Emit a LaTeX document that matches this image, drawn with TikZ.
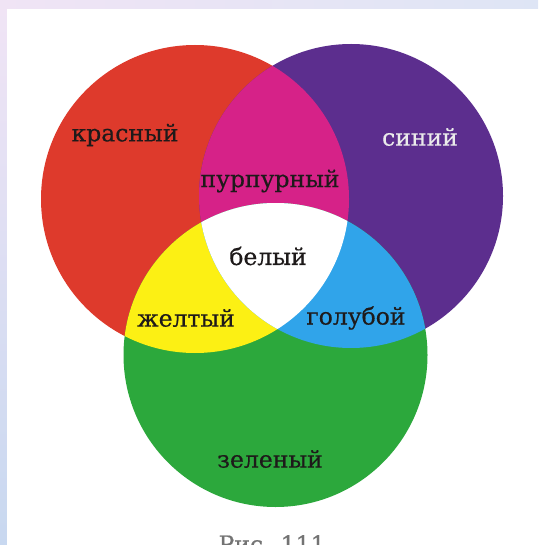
\documentclass[tikz,border=0pt]{standalone}
\usepackage{fontspec}
\setmainfont{DejaVu Serif}
\newfontfamily\lblfont{DejaVu Serif}[FakeBold=0.5]
\definecolor{cred}{RGB}{222,58,44}
\definecolor{cpurple}{RGB}{92,46,142}
\definecolor{cgreen}{RGB}{44,168,60}
\definecolor{cmagenta}{RGB}{214,34,136}
\definecolor{cyellow}{RGB}{252,240,20}
\definecolor{ccyan}{RGB}{48,164,234}
\definecolor{ctext}{RGB}{30,26,26}
\definecolor{bgpink}{RGB}{240,228,245}
\definecolor{bgblue}{RGB}{200,216,240}
\definecolor{bgtopr}{RGB}{222,229,245}
\begin{document}
\begin{tikzpicture}[x=1pt,y=-1pt,
  lbl/.style={font=\lblfont\fontsize{23.5}{26}\selectfont, text=ctext, inner sep=0pt}]
\useasboundingbox (0,0) rectangle (538,545);
% background frame
\shade[left color=bgpink, right color=bgtopr] (0,0) rectangle (538,9);
\shade[top color=bgpink, bottom color=bgblue] (0,9) rectangle (7,545);
\fill[white] (7,9) rectangle (538,545);
% circle centres
\coordinate (R) at (195,199);
\coordinate (P) at (351,196);
\coordinate (G) at (275.5,355);
\def\rR{154}\def\rP{152}\def\rG{152}
% primary fills
\fill[cred] (R) circle[radius=\rR];
\fill[cpurple] (P) circle[radius=\rP];
\fill[cgreen] (G) circle[radius=\rG];
% pairwise overlaps
\begin{scope}
  \clip (R) circle[radius=\rR];
  \fill[cmagenta] (P) circle[radius=\rP];
  \fill[cyellow] (G) circle[radius=\rG];
\end{scope}
\begin{scope}
  \clip (P) circle[radius=\rP];
  \fill[ccyan] (G) circle[radius=\rG];
\end{scope}
% triple overlap
\begin{scope}
  \clip (R) circle[radius=\rR];
  \clip (P) circle[radius=\rP];
  \fill[white] (G) circle[radius=\rG];
\end{scope}
% labels
\node[lbl] (tred) at (125,135) {красный};
\node[lbl, text=white!92!black] (tblue) at (420,137) {синий};
\node[lbl] (tmag) at (270,181) {пурпурный};
\node[lbl] (twhite) at (268,256) {белый};
\node[lbl] (tyel) at (186,318) {желтый};
\node[lbl] (tcyan) at (356,318) {голубой};
\node[lbl] (tgreen) at (270,459) {зеленый};
\begin{scope}
  \clip (0,0) rectangle (538,545);
  \node[lbl, text=black!55, anchor=north] (cap) at (272,535) {Рис. 111};
\end{scope}
\end{tikzpicture}
\end{document}
